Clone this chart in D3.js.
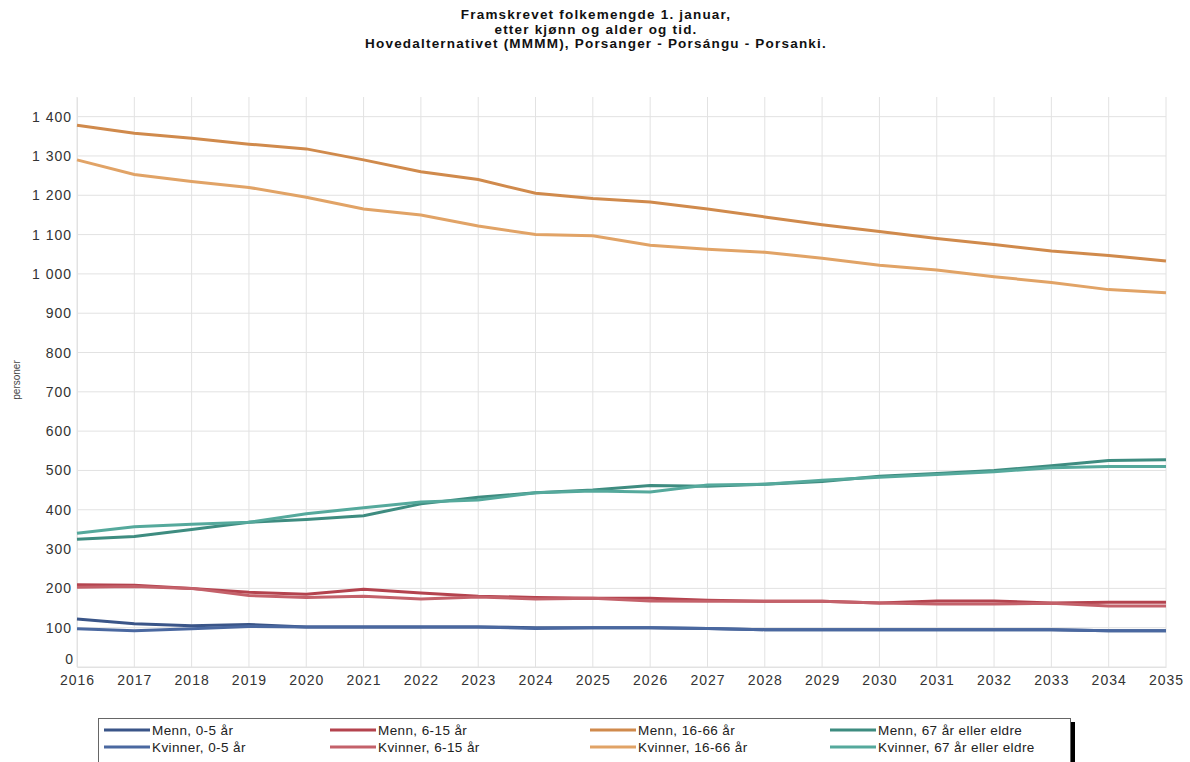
<!DOCTYPE html>
<html lang="no">
<head>
    <meta charset="UTF-8">
    <title>Framskrevet folkemengde</title>
    <script src="https://d3js.org/d3.v7.min.js"></script>
    <style>
        body { margin: 0; background: #fff; }
        text { font-family: "Liberation Sans", Arial, sans-serif; }
    </style>
</head>
<body>
<svg id="main" width="1190" height="762"></svg>

<script>
    let years = d3.range(2016, 2036);
    let yTicks = d3.range(0, 1500, 100);

    let menn05     = [122, 110, 105, 108, 102, 102, 102, 102, 100, 100, 100, 98, 95, 95, 95, 95, 95, 95, 92, 92];
    let kvinner05  = [97, 92, 97, 103, 102, 102, 102, 102, 98, 100, 100, 98, 95, 95, 95, 95, 95, 95, 92, 92];
    let menn615    = [209, 208, 200, 190, 185, 198, 188, 180, 177, 175, 175, 170, 167, 167, 163, 168, 168, 163, 165, 165];
    let kvinner615 = [203, 205, 200, 182, 177, 180, 173, 178, 173, 175, 168, 167, 167, 167, 163, 160, 160, 162, 155, 155];
    let menn1666   = [1378, 1358, 1345, 1330, 1318, 1290, 1260, 1240, 1205, 1192, 1183, 1165, 1145, 1125, 1108, 1090, 1075, 1058, 1047, 1033];
    let kvinner1666 = [1290, 1253, 1235, 1220, 1195, 1165, 1150, 1122, 1100, 1097, 1073, 1063, 1055, 1040, 1022, 1010, 993, 978, 960, 952];
    let menn67     = [325, 332, 350, 368, 375, 385, 415, 432, 443, 450, 462, 460, 465, 472, 485, 492, 500, 512, 525, 527];
    let kvinner67  = [340, 357, 363, 368, 390, 405, 420, 425, 443, 448, 445, 463, 465, 475, 483, 490, 497, 507, 510, 510];

    let series = [
        {name: 'Menn, 0-5 år', values: menn05, color: '#3a5588'},
        {name: 'Kvinner, 0-5 år', values: kvinner05, color: '#4a68a0'},
        {name: 'Menn, 6-15 år', values: menn615, color: '#b4434e'},
        {name: 'Kvinner, 6-15 år', values: kvinner615, color: '#c4616a'},
        {name: 'Menn, 16-66 år', values: menn1666, color: '#d08a4c'},
        {name: 'Kvinner, 16-66 år', values: kvinner1666, color: '#e1a366'},
        {name: 'Menn, 67 år eller eldre', values: menn67, color: '#3e8c80'},
        {name: 'Kvinner, 67 år eller eldre', values: kvinner67, color: '#55a99c'}
    ];

    let svg = d3.select('svg#main');
    let plotLeft = 77, plotRight = 1166, plotTop = 97, plotBottom = 667;

    let x = d3.scaleLinear().domain([2016, 2035]).range([plotLeft, plotRight]);
    let y = d3.scaleLinear().domain([0, 1450]).range([plotBottom, plotTop]);

    // title
    let title = ['Framskrevet folkemengde 1. januar,',
                 'etter kjønn og alder og tid.',
                 'Hovedalternativet (MMMM), Porsanger - Porsángu - Porsanki.'];
    svg.selectAll('text.title')
        .data(title)
        .enter()
        .append('text')
        .attr('class', 'title')
        .attr('x', 596)
        .attr('y', function(d, i) { return 19 + i * 14.5; })
        .attr('text-anchor', 'middle')
        .style('font-size', '13.5px')
        .style('letter-spacing', '1.2px')
        .style('font-weight', 'bold')
        .style('fill', '#111')
        .text(function(d) { return d; });

    // grid
    let grid = svg.append('g');
    grid.selectAll('line.v')
        .data(years)
        .enter()
        .append('line')
        .attr('x1', d => x(d)).attr('x2', d => x(d))
        .attr('y1', plotTop).attr('y2', plotBottom)
        .style('stroke', '#e2e2e2');
    grid.selectAll('line.h')
        .data(yTicks)
        .enter()
        .append('line')
        .attr('x1', plotLeft).attr('x2', plotRight)
        .attr('y1', d => y(d)).attr('y2', d => y(d))
        .style('stroke', '#e2e2e2');

    // axes
    let fmt = function(d) { return d3.format(',')(d).replace(',', ' '); };
    let yAxis = svg.append('g')
        .attr('transform', 'translate(' + plotLeft + ',0)')
        .call(d3.axisLeft(y).tickValues(yTicks).tickSize(0).tickPadding(5).tickFormat(fmt));
    let xAxis = svg.append('g')
        .attr('transform', 'translate(0,' + plotBottom + ')')
        .call(d3.axisBottom(x).tickValues(years).tickSize(0).tickPadding(8).tickFormat(d3.format('d')));
    [xAxis, yAxis].forEach(function(a) {
        a.select('.domain').style('stroke', '#e2e2e2');
        a.selectAll('text')
            .style('font-family', '"Liberation Sans", Arial, sans-serif')
            .style('font-size', '14px')
            .style('letter-spacing', '1px')
            .style('fill', '#333');
    });
    // the zero label sits a little higher, clear of the year labels
    yAxis.selectAll('.tick')
        .filter(d => d === 0)
        .select('text')
        .attr('y', -8)
        .attr('x', -3);

    svg.append('text')
        .attr('transform', 'translate(20,380) rotate(-90)')
        .attr('text-anchor', 'middle')
        .style('font-size', '10px')
        .style('fill', '#444')
        .text('personer');

    // lines
    let line = d3.line()
        .x(function(d, i) { return x(years[i]); })
        .y(function(d) { return y(d); });

    svg.append('g')
        .selectAll('path')
        .data(series)
        .enter()
        .append('path')
        .attr('d', d => line(d.values))
        .style('fill', 'none')
        .style('stroke', d => d.color)
        .style('stroke-width', 3);

    // legend
    let lg = svg.append('g');
    lg.append('rect')
        .attr('x', 1071).attr('y', 722).attr('width', 4).attr('height', 44)
        .style('fill', '#000');
    lg.append('rect')
        .attr('x', 98.5).attr('y', 718.5).attr('width', 972).attr('height', 50)
        .style('fill', '#fff')
        .style('stroke', '#666');

    let colX = [104, 330, 590, 830];
    let items = lg.selectAll('g.item')
        .data(series)
        .enter()
        .append('g')
        .attr('transform', function(d, i) {
            return 'translate(' + colX[Math.floor(i / 2)] + ',' + (730 + (i % 2) * 17) + ')';
        });
    items.append('line')
        .attr('x1', 0).attr('x2', 46)
        .style('stroke', d => d.color)
        .style('stroke-width', 3);
    items.append('text')
        .attr('x', 48)
        .attr('y', 4.5)
        .style('font-size', '13.5px')
        .style('letter-spacing', '0.4px')
        .style('fill', '#222')
        .text(d => d.name);
</script>
</body>
</html>
